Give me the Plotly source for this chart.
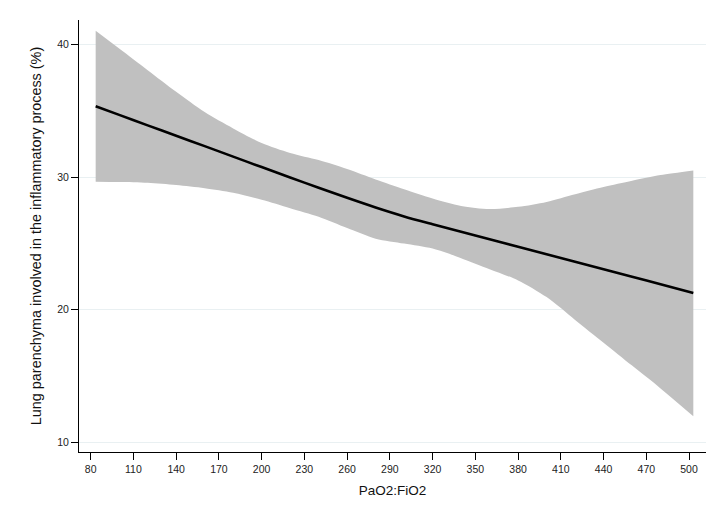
#!/usr/bin/env python3

import plotly.graph_objects as go

# Fitted line and 95% CI band
pf_ratio = [83.5, 100, 120, 140, 160, 180, 200, 220, 240, 260, 280, 300,
            320, 340, 360, 380, 400, 420, 440, 460, 480, 503]
fit = [35.34, 34.69, 33.90, 33.11, 32.33, 31.54, 30.75, 29.97, 29.19, 28.43, 27.70, 27.03,
       26.44, 25.87, 25.30, 24.74, 24.17, 23.61, 23.04, 22.48, 21.91, 21.25]
upper = [41.03, 39.69, 38.06, 36.43, 34.9, 33.67, 32.57, 31.82, 31.28, 30.6, 29.82, 29.08,
         28.38, 27.82, 27.58, 27.75, 28.12, 28.7, 29.25, 29.72, 30.15, 30.5]
lower = [29.65, 29.63, 29.57, 29.4, 29.16, 28.82, 28.28, 27.65, 27.0, 26.15, 25.35, 24.98,
         24.6, 23.88, 23.05, 22.2, 20.94, 19.22, 17.5, 15.77, 14.05, 11.95]

x_ticks = list(range(80, 501, 30))
y_ticks = [10, 20, 30, 40]

fig = go.Figure()

# CI band: lower edge, then upper edge filled down to it
fig.add_trace(
    go.Scatter(
        x=pf_ratio,
        y=lower,
        mode='lines',
        line=dict(color='#c0c0c0', width=0, shape='spline', smoothing=0.8),
        hoverinfo='skip',
        showlegend=False
    )
)
fig.add_trace(
    go.Scatter(
        x=pf_ratio,
        y=upper,
        mode='lines',
        fill='tonexty',
        fillcolor='#c0c0c0',
        line=dict(color='#c0c0c0', width=0, shape='spline', smoothing=0.8),
        hoverinfo='skip',
        showlegend=False
    )
)
fig.add_trace(
    go.Scatter(
        x=pf_ratio,
        y=fit,
        mode='lines',
        line=dict(color='black', width=2.6, shape='spline', smoothing=0.8),
        showlegend=False
    )
)

tick_font = dict(family='Liberation Sans, Arial, sans-serif', size=10.5, color='#222222')

# page has an 8px body margin, so the figure is 16px smaller than the window
fig.update_layout(
    width=709,
    height=512,
    paper_bgcolor='white',
    plot_bgcolor='white',
    margin=go.layout.Margin(
        l=71,
        r=11,
        b=68,
        t=12,
        pad=0
    ),
    xaxis=dict(
        title=dict(text='PaO2:FiO2',
                   font=dict(family='Liberation Sans, Arial, sans-serif', size=13.5, color='#111111'),
                   standoff=11),
        range=[71.8, 511.9],
        tickvals=x_ticks,
        ticks='outside',
        ticklen=7,
        tickcolor='black',
        tickfont=tick_font,
        showline=True,
        linecolor='black',
        linewidth=1,
        showgrid=False,
        zeroline=False
    ),
    yaxis=dict(
        title=dict(text='Lung parenchyma involved in the inflammatory process (%)',
                   font=dict(family='Liberation Sans, Arial, sans-serif', size=14.4, color='#111111'),
                   standoff=12),
        range=[9.25, 41.85],
        tickvals=y_ticks,
        ticks='outside',
        ticklen=7,
        tickcolor='black',
        tickfont=tick_font,
        showline=True,
        linecolor='black',
        linewidth=1,
        showgrid=True,
        gridcolor='#e9f0f2',
        gridwidth=1,
        zeroline=False
    )
)

fig.write_html("out.html")
